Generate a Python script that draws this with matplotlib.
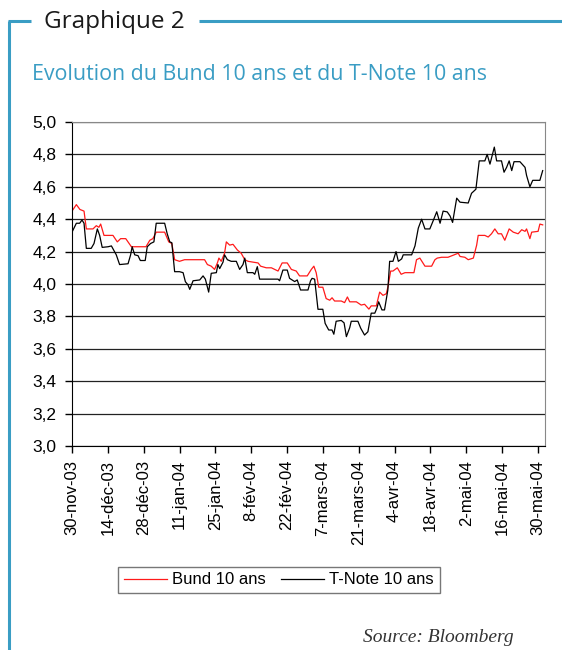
import numpy as np
import matplotlib
matplotlib.use("Agg")
import matplotlib.pyplot as plt
from matplotlib.lines import Line2D

# jours depuis le 30-nov-03
bund_days = [0, 1.7, 3.1, 4.7, 5.6, 8.2, 9.5, 10.5, 11.2, 12.5, 16, 17.7, 19, 21, 23.2, 28.9, 30.4, 31.6,
             32.9, 36.2, 37.8, 39, 40.1, 42, 44, 45.3, 47.5, 49.9, 51.8, 52.9, 54.4, 55.7, 56.8, 57.4, 58.3,
             59.6, 60.3, 61.6, 62.9, 64.6, 66.1, 67.5, 68.8, 70.7, 72.7, 73.7, 75.9, 77.9, 80.5, 82.1, 84.1,
             85.7, 87.6, 88.9, 91.9, 93.5, 94.5, 95.4, 96.4, 98, 99.3, 100.7, 101.6, 102.6, 105.2, 106.5,
             107.6, 108.5, 111.1, 113, 114.3, 116, 116.9, 118.9, 120.2, 121.5, 122.8, 123.4, 124.5, 125.4,
             127.1, 128.6, 130.1, 133.6, 134.6, 135.9, 137.9, 140.5, 141.8, 142.7, 144.4, 146.9, 150.9, 151.6,
             153.5, 154.8, 156.8, 158.1, 158.7, 161.3, 162.6, 163.9, 165.2, 166.5, 167.8, 169.1, 170.8, 172.4,
             174.3, 175.7, 177, 177.6, 178.9, 179.6, 182.1, 182.8, 183.9]
bund_vals = [4.45, 4.49, 4.46, 4.45, 4.34, 4.34, 4.36, 4.35, 4.37, 4.30, 4.30, 4.26, 4.28, 4.28, 4.23, 4.23,
             4.27, 4.28, 4.32, 4.32, 4.26, 4.25, 4.15, 4.14, 4.15, 4.15, 4.15, 4.15, 4.15, 4.12, 4.11, 4.09,
             4.13, 4.16, 4.14, 4.19, 4.26, 4.24, 4.245, 4.21, 4.19, 4.15, 4.14, 4.135, 4.13, 4.11, 4.10, 4.10,
             4.08, 4.13, 4.13, 4.09, 4.08, 4.05, 4.05, 4.09, 4.11, 4.07, 3.98, 3.98, 3.91, 3.90, 3.915, 3.895,
             3.895, 3.885, 3.92, 3.89, 3.89, 3.87, 3.875, 3.845, 3.865, 3.865, 3.95, 3.93, 3.94, 3.98, 4.08,
             4.08, 4.10, 4.06, 4.07, 4.07, 4.15, 4.16, 4.11, 4.11, 4.15, 4.16, 4.165, 4.165, 4.19, 4.17, 4.165,
             4.15, 4.16, 4.24, 4.30, 4.30, 4.29, 4.31, 4.34, 4.31, 4.31, 4.27, 4.34, 4.32, 4.31, 4.335, 4.325,
             4.34, 4.28, 4.32, 4.325, 4.37, 4.365]

tnote_days = [0, 1.7, 3, 3.9, 4.7, 5.6, 7.5, 8.6, 9.9, 10.8, 11.8, 14.1, 15.4, 17.3, 18.6, 21.9, 22.9, 23.5,
              24.5, 25.8, 26.7, 28.6, 29.4, 30.7, 32, 32.9, 36.2, 37.2, 38.2, 39, 40.1, 42, 43.4, 44.3, 45.3,
              46, 47.3, 49.9, 51.2, 52.1, 53.4, 54.4, 56.4, 57, 57.7, 59, 59.6, 60.7, 62.2, 64.2, 65.5, 66.8,
              67.5, 68.5, 70.7, 71.4, 72.4, 73.3, 80.5, 81.1, 82.4, 84.1, 85, 87, 88, 89.3, 92.2, 93.2, 93.8,
              94.8, 96.1, 98, 98.9, 100.3, 101.6, 102.3, 103.2, 105.2, 106.3, 107.2, 108.5, 109.1, 111.7,
              112.8, 114.3, 115.6, 116.9, 118.3, 119.1, 119.8, 121.1, 122.1, 123.4, 124.1, 125.4, 126.6, 127.5,
              128.8, 129.4, 132.7, 134, 135.3, 136.6, 137.9, 139.8, 141.1, 142.5, 143.8, 145, 146.6, 147.7,
              148.7, 150.3, 151.6, 154.8, 156.1, 157.8, 159.1, 161.3, 162.2, 163.3, 165, 165.9, 167.8, 168.8,
              169.8, 170.8, 171.8, 172.7, 175, 177, 177.6, 178.9, 180, 182.8, 183.9]
tnote_vals = [4.32, 4.375, 4.375, 4.395, 4.375, 4.22, 4.22, 4.25, 4.34, 4.30, 4.226, 4.23, 4.235, 4.18, 4.12,
              4.125, 4.18, 4.23, 4.18, 4.175, 4.145, 4.145, 4.23, 4.25, 4.26, 4.375, 4.375, 4.31, 4.26, 4.255,
              4.076, 4.076, 4.07, 4.014, 3.995, 3.967, 4.02, 4.025, 4.05, 4.03, 3.95, 4.066, 4.07, 4.12, 4.095,
              4.135, 4.18, 4.15, 4.14, 4.14, 4.09, 4.12, 4.16, 4.07, 4.07, 4.06, 4.107, 4.03, 4.03, 4.02, 4.086,
              4.086, 4.035, 4.015, 4.025, 3.963, 3.963, 4.02, 4.035, 4.03, 3.844, 3.844, 3.757, 3.716, 3.716,
              3.69, 3.77, 3.775, 3.76, 3.675, 3.73, 3.77, 3.77, 3.727, 3.685, 3.705, 3.82, 3.82, 3.85, 3.89,
              3.84, 3.84, 3.963, 4.14, 4.14, 4.20, 4.14, 4.155, 4.18, 4.18, 4.235, 4.345, 4.40, 4.34, 4.34,
              4.39, 4.446, 4.375, 4.45, 4.445, 4.42, 4.38, 4.53, 4.505, 4.50, 4.56, 4.585, 4.76, 4.76, 4.80,
              4.74, 4.845, 4.76, 4.76, 4.69, 4.72, 4.76, 4.70, 4.755, 4.755, 4.72, 4.67, 4.60, 4.64, 4.64, 4.70]

tick_days = [0, 14, 28, 42, 56, 70, 84, 98, 112, 126, 140, 154, 168, 182]
tick_labels = ["30-nov-03", "14-déc-03", "28-déc-03", "11-jan-04", "25-jan-04", "8-fév-04", "22-fév-04",
               "7-mars-04", "21-mars-04", "4-avr-04", "18-avr-04", "2-mai-04", "16-mai-04", "30-mai-04"]
y_ticks = [3.0, 3.2, 3.4, 3.6, 3.8, 4.0, 4.2, 4.4, 4.6, 4.8, 5.0]

W, H = 562, 650
blue = "#3a9dc4"
plt.rcParams['font.family'] = ['Liberation Sans', 'DejaVu Sans']

fig = plt.figure(figsize=(W/100, H/100), dpi=100)

def fx(px): return px / W
def fy(py): return 1 - py / H

# cadre bleu
fig.add_artist(Line2D([fx(9), fx(9)], [fy(21), fy(652)], color=blue, lw=2.2, solid_capstyle='butt'))
fig.add_artist(Line2D([fx(8), fx(31)], [fy(21), fy(21)], color=blue, lw=2.2, solid_capstyle='butt'))
fig.add_artist(Line2D([fx(199), fx(562)], [fy(21), fy(21)], color=blue, lw=2.2, solid_capstyle='butt'))

fig.text(fx(44), fy(22), "Graphique 2", fontsize=17.5, family='Open Sans', color='#1a1a1a', va='center', ha='left')
fig.text(fx(32), fy(75), "Evolution du Bund 10 ans et du T-Note 10 ans", fontsize=15.4, family='Open Sans',
         color=blue, va='center', ha='left')

ax = fig.add_axes([fx(72), fy(446), fx(545) - fx(72), (446 - 122) / H])
ax.plot(bund_days, bund_vals, color="#ff1a1a", lw=0.9, label="Bund 10 ans")
ax.plot(tnote_days, tnote_vals, color="black", lw=0.9, label="T-Note 10 ans")

ax.set_xlim(0, 184.8)
ax.set_ylim(3.0, 5.0)
ax.set_yticks(y_ticks)
ax.set_yticklabels([f"{v:.1f}".replace(".", ",") for v in y_ticks], fontsize=12.5)
ax.set_xticks(tick_days)
ax.set_xticklabels(tick_labels, rotation=90, fontsize=12)
ax.tick_params(axis='both', direction='out', length=5, width=1, color='black')
ax.tick_params(axis='y', pad=6)
ax.tick_params(axis='x', pad=5)
ax.yaxis.grid(True, color='#222222', lw=0.9)
ax.set_axisbelow(True)
for s in ['top', 'right']:
    ax.spines[s].set_color('#888888')
for s in ['left', 'bottom']:
    ax.spines[s].set_color('black')

leg = fig.legend(loc='center', bbox_to_anchor=(fx(279), fy(580)), ncol=2, fontsize=12,
                 frameon=True, fancybox=False, edgecolor='#555555', handlelength=2.6,
                 handletextpad=0.3, columnspacing=0.9, borderpad=0.35, borderaxespad=0)
leg.get_frame().set_linewidth(1.0)

fig.text(fx(363), fy(629), "Source: Bloomberg", fontsize=14, family='Liberation Serif', style='italic',
         color='#333333', va='top', ha='left')

fig.savefig("out.png", dpi=100)
